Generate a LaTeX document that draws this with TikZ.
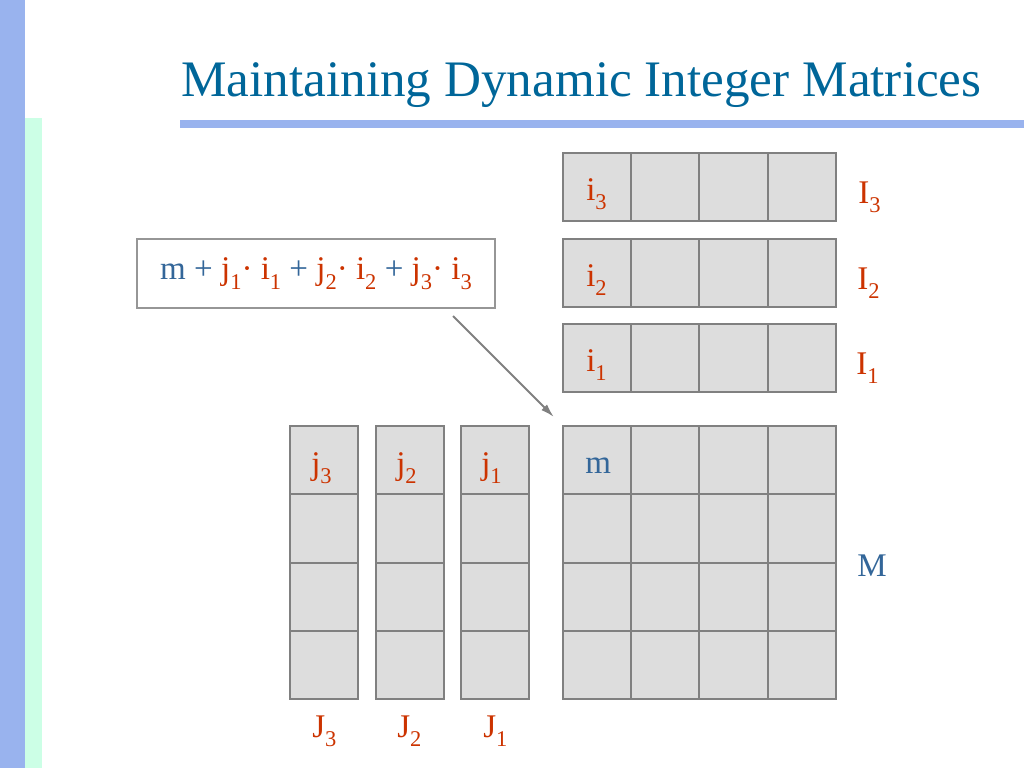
\documentclass[tikz,border=0pt]{standalone}
\usepackage{fontspec}
\setmainfont{Liberation Serif}
\usetikzlibrary{arrows.meta, positioning}
\definecolor{titleblue}{RGB}{0,102,153}
\definecolor{labred}{RGB}{204,51,0}
\definecolor{mblue}{RGB}{51,102,153}
\definecolor{barblue}{RGB}{153,179,238}
\definecolor{stripgreen}{RGB}{204,255,230}
\definecolor{cellfill}{RGB}{221,221,221}
\definecolor{cellline}{RGB}{128,128,128}
\definecolor{boxline}{RGB}{150,150,150}
\newcommand{\idx}[2]{#1\raisebox{-0.3em}{\fontsize{16}{19}\selectfont #2}}

\begin{document}
\begin{tikzpicture}[
  x=0.025cm, y=-0.025cm,
  cell/.style={draw=cellline, fill=cellfill, line width=1.4pt, minimum width=1.707cm, minimum height=1.707cm, inner sep=0, outer sep=0},
  lab/.style={anchor=base west, inner sep=0, text=labred, font=\fontsize{23.5}{28}\selectfont},
  arrow/.style={-{Latex[length=3.4mm,width=2mm]}, line width=1.4pt, draw=cellline}
]
\useasboundingbox (0,0) rectangle (1024,768);
% slide decoration
\fill[barblue] (0,0) rectangle (25,768);
\fill[stripgreen] (25,118) rectangle (42,768);
\fill[barblue] (180,120) rectangle (1024,128);
\node[anchor=base west, inner sep=0, text=titleblue, font=\fontsize{36.4}{42}\selectfont] (title) at (181,97) {Maintaining Dynamic Integer Matrices};

% vectors I_3, I_2, I_1
\foreach \r/\yc in {3/187, 2/273, 1/358}
  \foreach \c in {1,...,4}
    \node[cell] (I\r-\c) at ({597.1+68.25*(\c-1)}, \yc) {};

% matrix M
\foreach \r/\yc in {1/460.2, 2/528.5, 3/596.7, 4/665}
  \foreach \c in {1,...,4}
    \node[cell] (M-\r-\c) at ({597.1+68.25*(\c-1)}, \yc) {};

% vectors J_3, J_2, J_1
\foreach \j/\xc in {3/324.2, 2/409.7, 1/495}
  \foreach \r/\yc in {1/460.2, 2/528.5, 3/596.7, 4/665}
    \node[cell] (J\j-\r) at (\xc, \yc) {};

% entries
\node[lab] (i3) at (586,200) {\idx{i}{3}};
\node[lab] (i2) at (586,286) {\idx{i}{2}};
\node[lab] (i1) at (586,371) {\idx{i}{1}};
\node[lab, text=mblue] (m) at (585,473) {m};
\node[lab] (j3) at (311,474) {\idx{j}{3}};
\node[lab] (j2) at (396,474) {\idx{j}{2}};
\node[lab] (j1) at (481,474) {\idx{j}{1}};

% names
\node[lab] (nI3) at (858,203) {\idx{I}{3}};
\node[lab] (nI2) at (857,289) {\idx{I}{2}};
\node[lab] (nI1) at (856,374) {\idx{I}{1}};
\node[lab, text=mblue] (nM) at (857,576) {M};
\node[lab] (nJ3) at (312,737) {\idx{J}{3}};
\node[lab] (nJ2) at (397,737) {\idx{J}{2}};
\node[lab] (nJ1) at (483,737) {\idx{J}{1}};

% formula
\node[draw=boxline, line width=1.4pt, minimum width=8.95cm, minimum height=1.725cm, inner sep=0,
      font=\fontsize{23.5}{28}\selectfont, text=mblue] (formula) at (316,273.5)
  {\raisebox{-0.1em}{m + \textcolor{labred}{\idx{j}{1}· \idx{i}{1}} + \textcolor{labred}{\idx{j}{2}· \idx{i}{2}} + \textcolor{labred}{\idx{j}{3}· \idx{i}{3}}}};

\coordinate (tail) at (453,316);
\draw[arrow, shorten >=0.32cm] (tail) -- (M-1-1.north west);
\end{tikzpicture}
\end{document}
